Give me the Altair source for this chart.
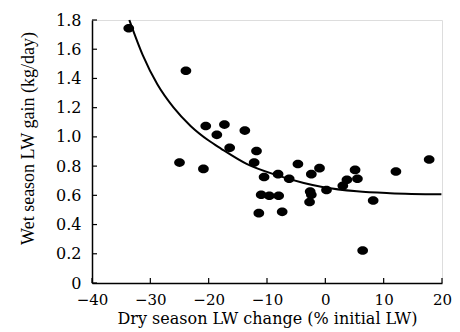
import altair as alt
import pandas as pd

# Observed points (dry season LW change %, wet season LW gain kg/day)
dry_change = [-33.7, -23.9, -20.5, -17.3, -18.6, -13.8, -16.4, -11.8, -25.0, -20.9,
              -12.2, -10.5, -8.1, -6.2, -4.7, -11.0, -9.6, -8.0, -11.4, -7.4,
              -1.0, -2.4, 5.1, 12.1, 17.8, 3.7, 5.5, 3.0, 0.2, -2.6,
              -2.4, -2.7, 8.2, 6.4]
wet_gain = [1.743, 1.453, 1.075, 1.084, 1.014, 1.043, 0.925, 0.904, 0.824, 0.781,
            0.824, 0.725, 0.745, 0.713, 0.815, 0.604, 0.597, 0.597, 0.478, 0.487,
            0.786, 0.745, 0.774, 0.763, 0.845, 0.706, 0.713, 0.665, 0.636, 0.626,
            0.604, 0.554, 0.565, 0.223]

# Fitted curve
curve_x = [-33.6, -31.3, -28.8, -26.0, -23.1, -20.0, -17.9, -13.5, -8.5,
           -3.7, -0.3, 5.4, 11.1, 19.9]
curve_y = [1.80, 1.56, 1.36, 1.20, 1.075, 0.975, 0.92, 0.815, 0.74,
           0.685, 0.656, 0.628, 0.615, 0.607]

x_ticks = [-40, -30, -20, -10, 0, 10, 20]
y_ticks = [0, 0.2, 0.4, 0.6, 0.8, 1.0, 1.2, 1.4, 1.6, 1.8]

W, H = 350, 263
FONT = "DejaVu Serif"

pts = pd.DataFrame({"x": dry_change, "y": wet_gain})
crv = pd.DataFrame({"x": curve_x, "y": curve_y})
xt = pd.DataFrame({"x": x_ticks})
yt = pd.DataFrame({"y": y_ticks})

xscale = alt.Scale(domain=[-40, 20], nice=False, zero=False)
yscale = alt.Scale(domain=[0, 1.8], nice=False)

xaxis = alt.Axis(values=x_ticks, ticks=False, tickSize=0, grid=False,
                 domainColor="black", domainWidth=1.5,
                 labelOverlap=False, labelBound=False, labelFlush=False,
                 labelFont=FONT, labelFontSize=15, labelColor="black", labelPadding=9,
                 title="Dry season LW change (% initial LW)",
                 titleFont=FONT, titleFontSize=16, titleFontWeight="normal",
                 titleColor="black", titlePadding=3)
yaxis = alt.Axis(values=y_ticks, ticks=False, tickSize=0, grid=False,
                 domainColor="black", domainWidth=1.5,
                 labelOverlap=False, labelBound=False, labelFlush=False,
                 labelFont=FONT, labelFontSize=16, labelColor="black", labelPadding=11,
                 labelExpr="datum.value == 0 ? '0' : format(datum.value, '.1f')",
                 title="Wet season LW gain (kg/day)",
                 titleFont="Liberation Serif", titleFontSize=18, titleFontWeight="normal",
                 titleColor="black", titlePadding=18, titleY=118)

ellipse = "M-1,0A1,0.8,0,1,0,1,0A1,0.8,0,1,0,-1,0Z"

points = alt.Chart(pts).mark_point(shape=ellipse, filled=True, color="black",
                                   opacity=1, size=115).encode(
    x=alt.X("x:Q", scale=xscale, axis=xaxis),
    y=alt.Y("y:Q", scale=yscale, axis=yaxis),
)

line = alt.Chart(crv).mark_line(color="black", strokeWidth=2,
                                interpolate="monotone").encode(
    x=alt.X("x:Q", scale=xscale, axis=xaxis),
    y=alt.Y("y:Q", scale=yscale, axis=yaxis),
)

xticks = alt.Chart(xt).mark_rule(color="black", strokeWidth=1.2).encode(
    x=alt.X("x:Q", scale=xscale, axis=xaxis),
    y=alt.value(H),
    y2=alt.value(H - 5),
)

yticks = alt.Chart(yt).mark_rule(color="black", strokeWidth=1.2).encode(
    y=alt.Y("y:Q", scale=yscale, axis=yaxis),
    x=alt.value(0),
    x2=alt.value(5),
)

chart = alt.layer(points, line, xticks, yticks).properties(
    width=W, height=H,
    autosize=alt.AutoSizeParams(type="none"),
    padding={"left": 84, "top": 12, "right": 10, "bottom": 46},
).configure_view(stroke=None).configure_axis(
    labelOverlap=False
).configure(background="white")

chart.save("out.html", embed_options={"renderer": "svg", "actions": False})
